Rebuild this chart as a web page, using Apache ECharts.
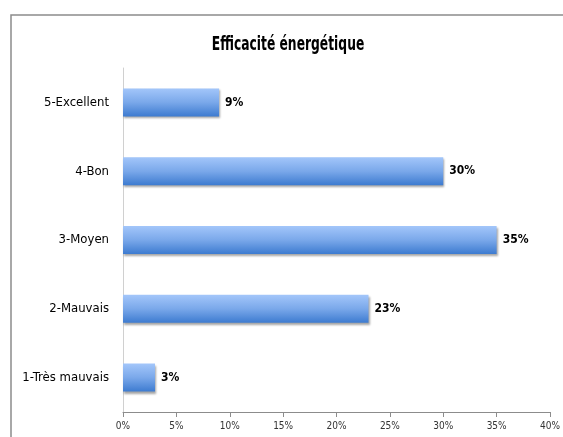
<!DOCTYPE html>
<html>
<head>
    <meta charset="UTF-8">
    <title>Efficacité énergétique</title>
    <script src="https://cdn.jsdelivr.net/npm/echarts/dist/echarts.min.js"></script>
    <style>
        body { margin: 0; background: #fff; }
        #chart { width: 563px; height: 437px; }
    </style>
</head>
<body>
    <div id="chart"></div>
    <script>
        // data
        const categories = ['1-Très mauvais', '2-Mauvais', '3-Moyen', '4-Bon', '5-Excellent'];
        const values = [3, 23, 35, 30, 9];
        const chartTitle = 'Efficacité énergétique';

        const font = '"Liberation Sans Narrow", "DejaVu Sans Condensed", "Open Sans", sans-serif';

        const chart = echarts.init(document.getElementById('chart'));
        chart.setOption({
            animation: false,
            graphic: [
                {
                    type: 'rect',
                    shape: { x: 11, y: 15, width: 600, height: 500 },
                    style: { fill: 'none', stroke: '#8c8c8c', lineWidth: 1.5 },
                    z: -1
                },
                {
                    type: 'text',
                    x: 288, y: 45,
                    scaleX: 0.72,
                    style: {
                        text: chartTitle,
                        fontFamily: font,
                        fontSize: 19,
                        fontWeight: 'bold',
                        fill: '#000',
                        align: 'center',
                        verticalAlign: 'middle'
                    }
                }
            ],
            grid: { left: 123, right: 11, top: 68, bottom: 25, containLabel: false },
            xAxis: {
                type: 'value',
                min: 0,
                max: 40,
                interval: 5,
                axisLine: { show: true, lineStyle: { color: '#8c8c8c' } },
                axisTick: { show: true, length: 5, lineStyle: { color: '#8c8c8c' } },
                splitLine: { show: false },
                axisLabel: {
                    formatter: '{value}%',
                    fontFamily: font,
                    fontSize: 10,
                    color: '#333',
                    margin: 9
                }
            },
            yAxis: {
                type: 'category',
                data: categories,
                axisLine: { lineStyle: { color: '#d0d0d0' } },
                axisTick: { length: 5, lineStyle: { color: '#a0a0a0' } },
                axisLabel: {
                    fontFamily: font,
                    fontSize: 13,
                    color: '#000',
                    margin: 14
                }
            },
            series: [{
                type: 'bar',
                data: values,
                barWidth: 28,
                itemStyle: {
                    color: new echarts.graphic.LinearGradient(0, 0, 0, 1, [
                        { offset: 0, color: '#a3c6fa' },
                        { offset: 0.5, color: '#7aa8ea' },
                        { offset: 1, color: '#3d7bd0' }
                    ]),
                    shadowColor: 'rgba(0,0,0,0.35)',
                    shadowBlur: 2,
                    shadowOffsetX: 1,
                    shadowOffsetY: 2
                },
                label: {
                    show: true,
                    position: 'right',
                    distance: 6,
                    formatter: '{c}%',
                    fontFamily: font,
                    fontSize: 12,
                    fontWeight: 'bold',
                    color: '#000'
                }
            }]
        });
    </script>
</body>
</html>
